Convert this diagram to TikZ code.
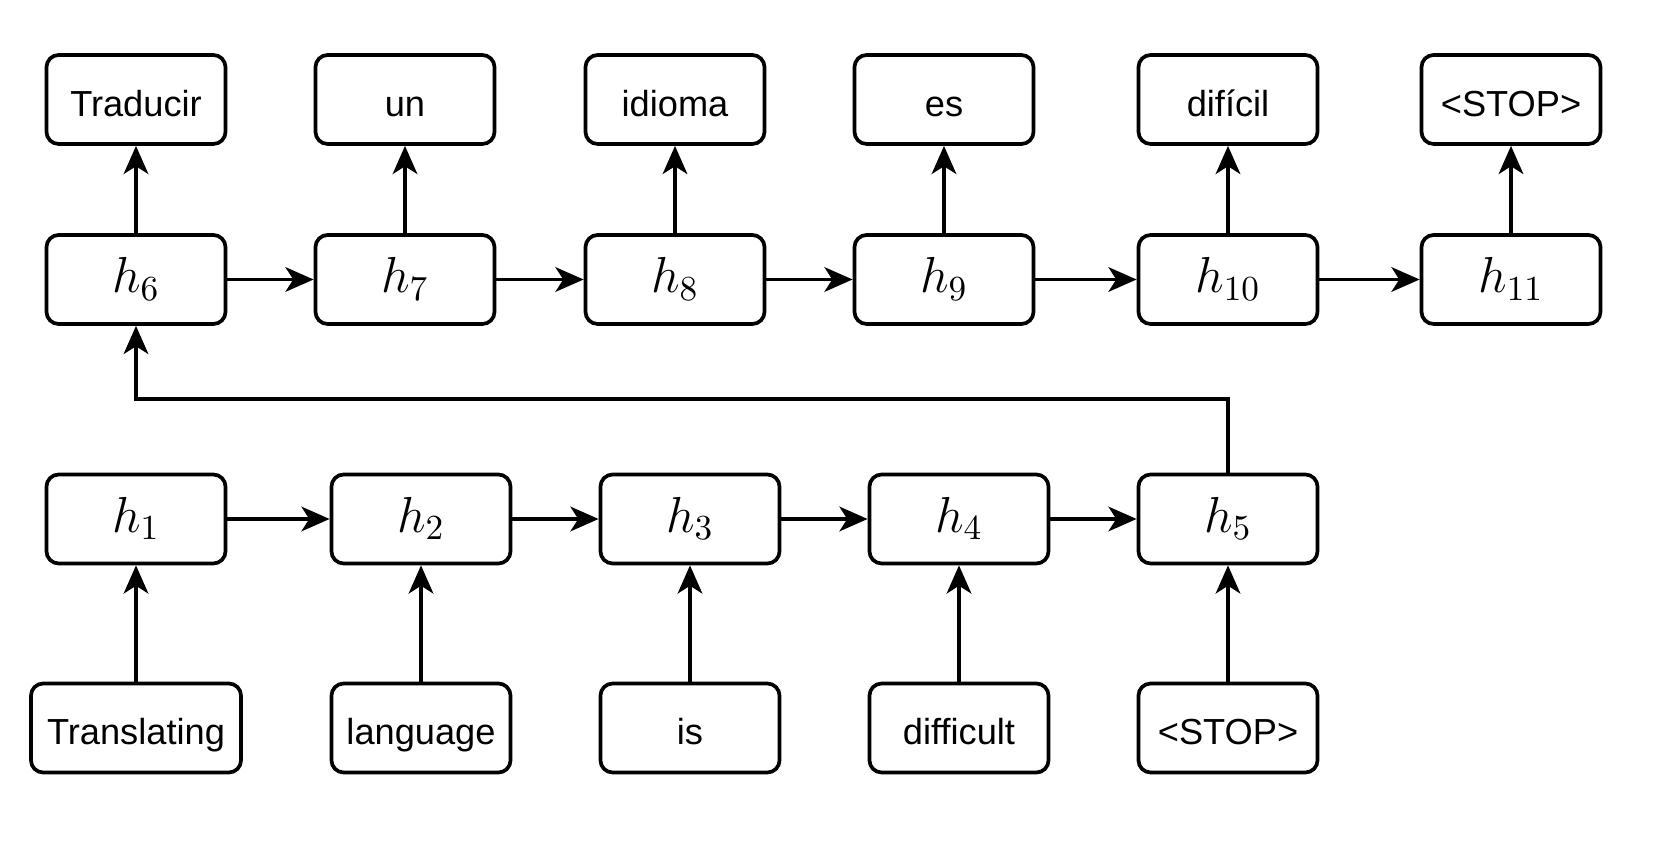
\documentclass[tikz,border=0pt]{standalone}
\usepackage{fontspec}
\setmainfont{Liberation Sans}
\usetikzlibrary{arrows.meta, positioning, calc}

\begin{document}
\begin{tikzpicture}[
    x=0.01cm, y=-0.01cm,
    font=\fontsize{10.3}{12}\selectfont,
    word/.style={rectangle, draw, rounded corners=3.5pt, line width=1.05pt, minimum width=1.79cm, minimum height=0.89cm, align=center, inner sep=2pt, text height=1em, text depth=0.05em},
    state/.style={word, font=\fontsize{14}{16}\selectfont, text height=0.8em, text depth=0.06em},
    arrow/.style={-{Stealth[length=8pt, width=7pt, inset=2.2pt]}, line width=0.95pt}
]
    \useasboundingbox (0,0) rectangle (1660,861);

    % decoder outputs
    \node[word] (o6) at (136,99.5) {Traducir};
    \node[word] (o7) at (405,99.5) {un};
    \node[word] (o8) at (675,99.5) {idioma};
    \node[word] (o9) at (944,99.5) {es};
    \node[word] (o10) at (1228,99.5) {difícil};
    \node[word] (o11) at (1511,99.5) {<STOP>};

    % decoder states
    \node[state] (h6) at (136,279.5) {$h_{6}$};
    \node[state] (h7) at (405,279.5) {$h_{7}$};
    \node[state] (h8) at (675,279.5) {$h_{8}$};
    \node[state] (h9) at (944,279.5) {$h_{9}$};
    \node[state] (h10) at (1228,279.5) {$h_{10}$};
    \node[state] (h11) at (1511,279.5) {$h_{11}$};

    % encoder states
    \node[state] (h1) at (136,519) {$h_{1}$};
    \node[state] (h2) at (421,519) {$h_{2}$};
    \node[state] (h3) at (690,519) {$h_{3}$};
    \node[state] (h4) at (959,519) {$h_{4}$};
    \node[state] (h5) at (1228,519) {$h_{5}$};

    % encoder inputs
    \node[word, minimum width=2.1cm] (i1) at (136,728) {Translating};
    \node[word] (i2) at (421,728) {language};
    \node[word] (i3) at (690,728) {is};
    \node[word] (i4) at (959,728) {difficult};
    \node[word] (i5) at (1228,728) {<STOP>};

    \foreach \a/\b in {h1/h2, h2/h3, h3/h4, h4/h5, h6/h7, h7/h8, h8/h9, h9/h10, h10/h11} {
        \draw[arrow] (\a) -- (\b);
    }
    \foreach \n in {1,...,5} {
        \draw[arrow] (i\n) -- (h\n);
    }
    \foreach \n in {6,...,11} {
        \draw[arrow] (h\n) -- (o\n);
    }

    % context vector
    \coordinate (bend) at (136,399);
    \draw[arrow] (h5.north) |- (bend) -- (h6.south);
\end{tikzpicture}
\end{document}
